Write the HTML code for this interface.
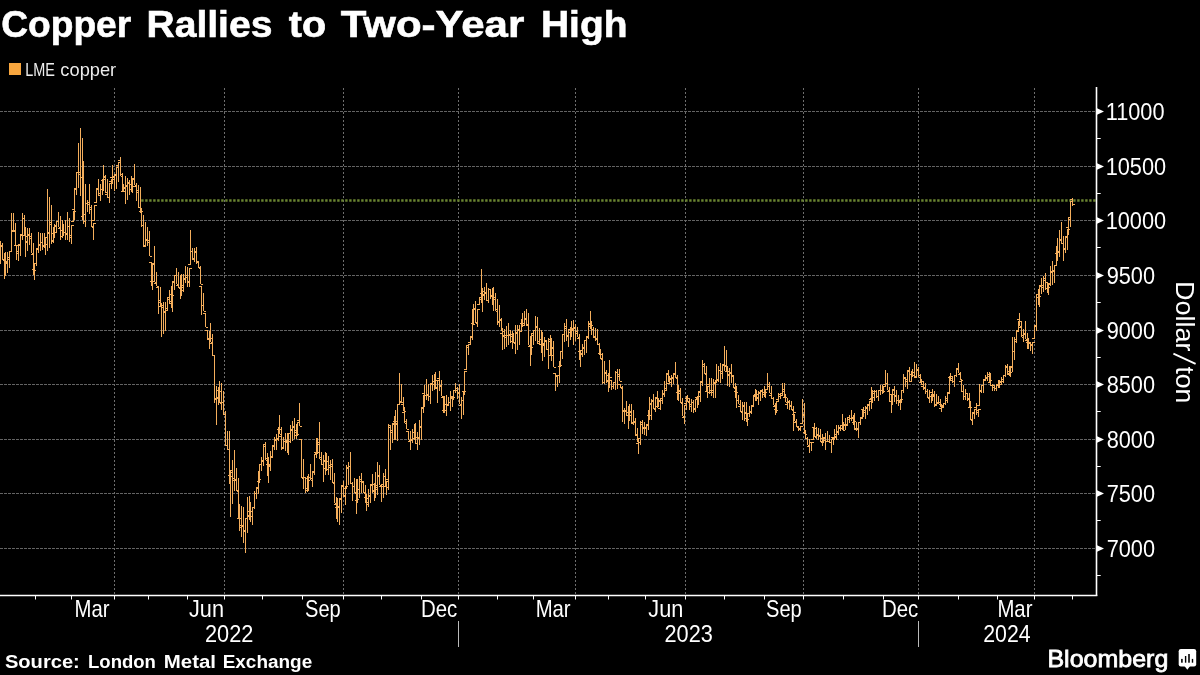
<!DOCTYPE html>
<html><head><meta charset="utf-8"><style>
html,body{margin:0;padding:0;background:#000;}
body{width:1200px;height:675px;overflow:hidden;position:relative;font-family:"Liberation Sans",sans-serif;}
svg{position:absolute;left:0;top:0;will-change:transform;}
svg text{font-family:"Liberation Sans",sans-serif;}
</style></head><body>
<svg width="1200" height="675" viewBox="0 0 1200 675" font-family="Liberation Sans, sans-serif">
<rect width="1200" height="675" fill="#000"/>
<text transform="translate(1.21 37) scale(0.9908 1)" x="0" y="0" fill="#fff" font-size="37.5" font-weight="bold" stroke="#fff" stroke-width="0.6">Copper</text><text transform="translate(146.52 37) scale(1.0415 1)" x="0" y="0" fill="#fff" font-size="37.5" font-weight="bold" stroke="#fff" stroke-width="0.6">Rallies</text><text transform="translate(288.80 37) scale(1.0529 1)" x="0" y="0" fill="#fff" font-size="37.5" font-weight="bold" stroke="#fff" stroke-width="0.6">to</text><text transform="translate(340.80 37) scale(1.1195 1)" x="0" y="0" fill="#fff" font-size="37.5" font-weight="bold" stroke="#fff" stroke-width="0.6">Two-Year</text><text transform="translate(540.92 37) scale(1.0405 1)" x="0" y="0" fill="#fff" font-size="37.5" font-weight="bold" stroke="#fff" stroke-width="0.6">High</text>
<rect x="9" y="63" width="12" height="12" fill="#f8a63e"/>
<text transform="translate(25.17 75.9) scale(0.8265 1)" x="0" y="0" fill="#ececec" font-size="17.5" font-weight="normal">LME</text><text transform="translate(60.36 75.9) scale(1.0434 1)" x="0" y="0" fill="#ececec" font-size="17.5" font-weight="normal">copper</text>
<g stroke="#636363" stroke-width="1" stroke-dasharray="3 1" fill="none" shape-rendering="crispEdges"><line x1="0" y1="548.5" x2="1096.0" y2="548.5"/><line x1="0" y1="493.5" x2="1096.0" y2="493.5"/><line x1="0" y1="439.5" x2="1096.0" y2="439.5"/><line x1="0" y1="384.5" x2="1096.0" y2="384.5"/><line x1="0" y1="330.5" x2="1096.0" y2="330.5"/><line x1="0" y1="275.5" x2="1096.0" y2="275.5"/><line x1="0" y1="220.5" x2="1096.0" y2="220.5"/><line x1="0" y1="166.5" x2="1096.0" y2="166.5"/><line x1="0" y1="111.5" x2="1096.0" y2="111.5"/></g>
<g stroke="#6e6e6e" stroke-width="1" stroke-dasharray="2 2" fill="none" shape-rendering="crispEdges"><line x1="114.5" y1="87.5" x2="114.5" y2="594.5"/><line x1="224.5" y1="87.5" x2="224.5" y2="594.5"/><line x1="343.5" y1="87.5" x2="343.5" y2="594.5"/><line x1="458.5" y1="87.5" x2="458.5" y2="594.5"/><line x1="575.5" y1="87.5" x2="575.5" y2="594.5"/><line x1="685.5" y1="87.5" x2="685.5" y2="594.5"/><line x1="803.5" y1="87.5" x2="803.5" y2="594.5"/><line x1="918.5" y1="87.5" x2="918.5" y2="594.5"/><line x1="1034.5" y1="87.5" x2="1034.5" y2="594.5"/></g>
<line x1="141" y1="200.5" x2="1096.5" y2="200.5" stroke="#6a8431" stroke-width="2.4" stroke-dasharray="2.4 1.6" stroke-dashoffset="-0.2"/>
<path d="M0.5 241V264M-2.0 248.5H0.5M0.5 245.5H3.0M2.5 243V259M0.0 246.5H2.5M2.5 259.5H5.0M4.5 253V279M2.0 259.5H4.5M4.5 262.5H7.0M5.5 252V276M3.0 260.5H5.5M5.5 263.5H8.0M7.5 252V273M5.0 261.5H7.5M7.5 259.5H10.0M9.5 251V268M7.0 257.5H9.5M9.5 251.5H12.0M11.5 213V251M9.0 251.5H11.5M11.5 231.5H14.0M13.5 213V232M11.0 230.5H13.5M13.5 230.5H16.0M15.5 223V245M13.0 231.5H15.5M15.5 245.5H18.0M16.5 245V260M14.0 245.5H16.5M16.5 251.5H19.0M18.5 244V261M16.0 253.5H18.5M18.5 244.5H21.0M20.5 235V256M18.0 245.5H20.5M20.5 235.5H23.0M22.5 213V240M20.0 234.5H22.5M22.5 218.5H25.0M24.5 215V236M22.0 218.5H24.5M24.5 236.5H27.0M25.5 227V257M23.0 235.5H25.5M25.5 241.5H28.0M27.5 228V251M25.0 242.5H27.5M27.5 234.5H30.0M29.5 228V245M27.0 235.5H29.5M29.5 238.5H32.0M31.5 233V253M29.0 236.5H31.5M31.5 253.5H34.0M33.5 243V275M31.0 254.5H33.5M33.5 270.5H36.0M34.5 263V280M32.0 269.5H34.5M34.5 263.5H37.0M36.5 248V266M34.0 263.5H36.5M36.5 248.5H39.0M38.5 232V253M36.0 249.5H38.5M38.5 245.5H41.0M40.5 233V251M38.0 244.5H40.5M40.5 242.5H43.0M42.5 233V250M40.0 242.5H42.5M42.5 245.5H45.0M44.5 233V248M42.0 246.5H44.5M44.5 244.5H47.0M45.5 237V255M43.0 246.5H45.5M45.5 237.5H48.0M47.5 189V251M45.0 237.5H47.5M47.5 233.5H50.0M49.5 197V248M47.0 232.5H49.5M49.5 224.5H52.0M51.5 205V244M49.0 222.5H51.5M51.5 240.5H54.0M53.5 227V243M51.0 241.5H53.5M53.5 232.5H56.0M54.5 224V238M52.0 233.5H54.5M54.5 225.5H57.0M56.5 221V233M54.0 226.5H56.5M56.5 221.5H59.0M58.5 212V227M56.0 221.5H58.5M58.5 227.5H61.0M60.5 216V240M58.0 228.5H60.5M60.5 236.5H63.0M62.5 220V238M60.0 236.5H62.5M62.5 232.5H65.0M63.5 224V236M61.0 230.5H63.5M63.5 232.5H66.0M65.5 220V240M63.0 232.5H65.5M65.5 233.5H68.0M67.5 212V240M65.0 234.5H67.5M67.5 226.5H70.0M69.5 218V242M67.0 226.5H69.5M69.5 237.5H72.0M71.5 225V244M69.0 235.5H71.5M71.5 225.5H74.0M73.5 211V221M71.0 221.5H73.5M73.5 211.5H76.0M74.5 189V220M72.0 209.5H74.5M74.5 189.5H77.0M76.5 172V195M74.0 188.5H76.5M76.5 172.5H79.0M78.5 143V188M76.0 172.5H78.5M78.5 174.5H81.0M80.5 128V196M78.0 172.5H80.5M80.5 177.5H83.0M82.5 138V220M80.0 177.5H82.5M82.5 214.5H85.0M83.5 161V224M81.0 216.5H83.5M83.5 221.5H86.0M85.5 184V227M83.0 221.5H85.5M85.5 203.5H88.0M87.5 200V212M85.0 203.5H87.5M87.5 202.5H90.0M89.5 184V214M87.0 204.5H89.5M89.5 209.5H92.0M91.5 205V227M89.0 207.5H91.5M91.5 227.5H94.0M93.5 223V240M91.0 226.5H93.5M93.5 223.5H96.0M94.5 205V220M92.0 220.5H94.5M94.5 205.5H97.0M96.5 189V202M94.0 202.5H96.5M96.5 189.5H99.0M98.5 179V196M96.0 188.5H98.5M98.5 193.5H101.0M100.5 184V201M98.0 195.5H100.5M100.5 189.5H103.0M102.5 179V195M100.0 189.5H102.5M102.5 179.5H105.0M103.5 165V191M101.0 180.5H103.5M103.5 176.5H106.0M105.5 175V193M103.0 177.5H105.5M105.5 192.5H108.0M107.5 179V198M105.0 194.5H107.5M107.5 197.5H110.0M109.5 183V203M107.0 197.5H109.5M109.5 183.5H112.0M111.5 179V189M109.0 181.5H111.5M111.5 179.5H114.0M112.5 165V184M110.0 177.5H112.5M112.5 177.5H115.0M114.5 175V191M112.0 176.5H114.5M114.5 175.5H117.0M116.5 167V189M114.0 174.5H116.5M116.5 167.5H119.0M118.5 162V182M116.0 165.5H118.5M118.5 162.5H121.0M120.5 157V176M118.0 160.5H120.5M120.5 176.5H123.0M122.5 173V191M120.0 174.5H122.5M122.5 191.5H125.0M123.5 184V192M121.0 191.5H123.5M123.5 188.5H126.0M125.5 176V204M123.0 187.5H125.5M125.5 186.5H128.0M127.5 178V200M125.0 185.5H127.5M127.5 182.5H130.0M129.5 180V195M127.0 183.5H129.5M129.5 189.5H132.0M131.5 176V192M129.0 189.5H131.5M131.5 186.5H134.0M132.5 179V193M130.0 184.5H132.5M132.5 179.5H135.0M134.5 164V185M132.0 178.5H134.5M134.5 185.5H137.0M136.5 183V201M134.0 186.5H136.5M136.5 192.5H139.0M138.5 185V207M136.0 190.5H138.5M138.5 207.5H141.0M140.5 187V213M138.0 207.5H140.5M140.5 211.5H143.0M141.5 208V227M139.0 211.5H141.5M141.5 225.5H144.0M143.5 215V247M141.0 225.5H143.5M143.5 245.5H146.0M145.5 222V246M143.0 246.5H145.5M145.5 240.5H148.0M147.5 227V246M145.0 239.5H147.5M147.5 242.5H150.0M149.5 231V256M147.0 240.5H149.5M149.5 256.5H152.0M151.5 262V286M149.0 262.5H151.5M151.5 281.5H154.0M152.5 263V290M150.0 281.5H152.5M152.5 263.5H155.0M154.5 246V282M152.0 264.5H154.5M154.5 282.5H157.0M156.5 272V286M154.0 283.5H156.5M156.5 286.5H159.0M158.5 287V314M156.0 287.5H158.5M158.5 302.5H161.0M160.5 287V307M158.0 300.5H160.5M160.5 307.5H163.0M161.5 303V337M159.0 306.5H161.5M161.5 307.5H164.0M163.5 302V334M161.0 305.5H163.5M163.5 312.5H166.0M165.5 302V331M163.0 311.5H165.5M165.5 308.5H168.0M167.5 297V311M165.0 310.5H167.5M167.5 297.5H170.0M169.5 290V303M167.0 299.5H169.5M169.5 301.5H172.0M171.5 286V308M169.0 303.5H171.5M171.5 295.5H174.0M172.5 282V312M170.0 294.5H172.5M172.5 282.5H175.0M174.5 275V290M172.0 281.5H174.5M174.5 275.5H177.0M176.5 268V284M174.0 275.5H176.5M176.5 284.5H179.0M178.5 272V287M176.0 285.5H178.5M178.5 287.5H181.0M180.5 275V299M178.0 287.5H180.5M180.5 290.5H183.0M181.5 274V296M179.0 288.5H181.5M181.5 285.5H184.0M183.5 274V292M181.0 287.5H183.5M183.5 278.5H186.0M185.5 266V283M183.0 279.5H185.5M185.5 277.5H188.0M187.5 267V287M185.0 275.5H187.5M187.5 282.5H190.0M189.5 268V287M187.0 281.5H189.5M189.5 268.5H192.0M190.5 230V264M188.0 264.5H190.5M190.5 251.5H193.0M192.5 248V259M190.0 251.5H192.5M192.5 258.5H195.0M194.5 248V262M192.0 259.5H194.5M194.5 252.5H197.0M196.5 247V264M194.0 251.5H196.5M196.5 261.5H199.0M198.5 262V268M196.0 262.5H198.5M198.5 268.5H201.0M200.5 266V284M198.0 267.5H200.5M200.5 284.5H203.0M201.5 286V315M199.0 286.5H201.5M201.5 305.5H204.0M203.5 293V311M201.0 305.5H203.5M203.5 311.5H206.0M205.5 313V327M203.0 313.5H205.5M205.5 327.5H208.0M207.5 330V339M205.0 330.5H207.5M207.5 339.5H210.0M209.5 331V349M207.0 339.5H209.5M209.5 338.5H212.0M210.5 323V342M208.0 338.5H210.5M210.5 342.5H213.0M212.5 334V355M210.0 343.5H212.5M212.5 355.5H215.0M214.5 355V403M212.0 355.5H214.5M214.5 399.5H217.0M216.5 386V425M214.0 398.5H216.5M216.5 398.5H219.0M218.5 387V405M216.0 397.5H218.5M218.5 391.5H221.0M219.5 381V403M217.0 390.5H219.5M219.5 403.5H222.0M221.5 383V410M219.0 402.5H221.5M221.5 402.5H224.0M223.5 391V414M221.0 402.5H223.5M223.5 414.5H226.0M225.5 411V445M223.0 414.5H225.5M225.5 445.5H228.0M227.5 431V449M225.0 445.5H227.5M227.5 449.5H230.0M229.5 431V484M227.0 449.5H229.5M229.5 476.5H232.0M230.5 470V517M228.0 475.5H230.5M230.5 472.5H233.0M232.5 460V504M230.0 470.5H232.5M232.5 480.5H235.0M234.5 450V491M232.0 478.5H234.5M234.5 479.5H237.0M236.5 468V491M234.0 480.5H236.5M236.5 491.5H239.0M238.5 478V518M236.0 490.5H238.5M238.5 518.5H241.0M239.5 504V531M237.0 518.5H239.5M239.5 527.5H242.0M241.5 506V537M239.0 525.5H241.5M241.5 526.5H244.0M243.5 507V543M241.0 525.5H243.5M243.5 530.5H246.0M245.5 518V553M243.0 531.5H245.5M245.5 518.5H248.0M247.5 497V533M245.0 518.5H247.5M247.5 515.5H250.0M249.5 496V520M247.0 516.5H249.5M249.5 511.5H252.0M250.5 502V522M248.0 511.5H250.5M250.5 516.5H253.0M252.5 507V525M250.0 516.5H252.5M252.5 507.5H255.0M254.5 491V509M252.0 507.5H254.5M254.5 493.5H257.0M256.5 487V499M254.0 493.5H256.5M256.5 487.5H259.0M258.5 471V494M256.0 488.5H258.5M258.5 479.5H261.0M259.5 464V483M257.0 481.5H259.5M259.5 464.5H262.0M261.5 457V471M259.0 464.5H261.5M261.5 460.5H264.0M263.5 445V466M261.0 461.5H263.5M263.5 446.5H266.0M265.5 442V460M263.0 444.5H265.5M265.5 460.5H268.0M267.5 453V476M265.0 458.5H267.5M267.5 466.5H270.0M268.5 457V483M266.0 464.5H268.5M268.5 464.5H271.0M270.5 451V471M268.0 465.5H270.5M270.5 457.5H273.0M272.5 445V458M270.0 456.5H272.5M272.5 445.5H275.0M274.5 437V450M272.0 446.5H274.5M274.5 439.5H277.0M276.5 434V450M274.0 440.5H276.5M276.5 439.5H279.0M278.5 427V441M276.0 438.5H278.5M278.5 429.5H281.0M279.5 415V434M277.0 429.5H279.5M279.5 434.5H282.0M281.5 427V450M279.0 436.5H281.5M281.5 448.5H284.0M283.5 437V449M281.0 447.5H283.5M283.5 441.5H286.0M285.5 433V451M283.0 441.5H285.5M285.5 441.5H288.0M287.5 433V453M285.0 440.5H287.5M287.5 441.5H290.0M288.5 433V455M286.0 442.5H288.5M288.5 433.5H291.0M290.5 425V443M288.0 433.5H290.5M290.5 430.5H293.0M292.5 421V441M290.0 429.5H292.5M292.5 426.5H295.0M294.5 418V439M292.0 427.5H294.5M294.5 432.5H297.0M296.5 424V439M294.0 430.5H296.5M296.5 434.5H299.0M297.5 422V435M295.0 435.5H297.5M297.5 422.5H300.0M299.5 403V426M297.0 420.5H299.5M299.5 426.5H302.0M301.5 439V478M299.0 439.5H301.5M301.5 478.5H304.0M303.5 459V489M301.0 477.5H303.5M303.5 477.5H306.0M305.5 477V493M303.0 477.5H305.5M305.5 488.5H308.0M307.5 476V492M305.0 490.5H307.5M307.5 480.5H310.0M308.5 474V491M306.0 478.5H308.5M308.5 477.5H311.0M310.5 464V480M308.0 477.5H310.5M310.5 480.5H313.0M312.5 471V487M310.0 478.5H312.5M312.5 471.5H315.0M314.5 454V475M312.0 472.5H314.5M314.5 454.5H317.0M316.5 438V458M314.0 452.5H316.5M316.5 452.5H319.0M317.5 438V454M315.0 453.5H317.5M317.5 444.5H320.0M319.5 422V459M317.0 442.5H319.5M319.5 459.5H322.0M321.5 452V464M319.0 457.5H321.5M321.5 464.5H324.0M323.5 455V482M321.0 464.5H323.5M323.5 460.5H326.0M325.5 452V475M323.0 461.5H325.5M325.5 469.5H328.0M326.5 453V471M324.0 468.5H326.5M326.5 461.5H329.0M328.5 456V475M326.0 461.5H328.5M328.5 467.5H331.0M330.5 460V480M328.0 465.5H330.5M330.5 466.5H333.0M332.5 459V483M330.0 464.5H332.5M332.5 483.5H335.0M334.5 473V503M332.0 482.5H334.5M334.5 503.5H337.0M336.5 497V519M334.0 504.5H336.5M336.5 507.5H339.0M337.5 498V522M335.0 507.5H337.5M337.5 507.5H340.0M339.5 499V525M337.0 506.5H339.5M339.5 499.5H342.0M341.5 485V513M339.0 498.5H341.5M341.5 485.5H344.0M343.5 481V497M341.0 486.5H343.5M343.5 496.5H346.0M345.5 486V505M343.0 495.5H345.5M345.5 486.5H348.0M346.5 465V489M344.0 488.5H346.5M346.5 467.5H349.0M348.5 462V485M346.0 468.5H348.5M348.5 466.5H351.0M350.5 452V483M348.0 466.5H350.5M350.5 483.5H353.0M352.5 482V501M350.0 483.5H352.5M352.5 486.5H355.0M354.5 478V493M352.0 486.5H354.5M354.5 493.5H357.0M356.5 479V514M354.0 492.5H356.5M356.5 499.5H359.0M357.5 479V503M355.0 500.5H357.5M357.5 489.5H360.0M359.5 476V498M357.0 489.5H359.5M359.5 481.5H362.0M361.5 473V493M359.0 479.5H361.5M361.5 482.5H364.0M363.5 481V493M361.0 481.5H363.5M363.5 493.5H366.0M365.5 485V503M363.0 492.5H365.5M365.5 498.5H368.0M366.5 494V511M364.0 497.5H366.5M366.5 502.5H369.0M368.5 489V507M366.0 504.5H368.5M368.5 496.5H371.0M370.5 485V503M368.0 495.5H370.5M370.5 485.5H373.0M372.5 474V493M370.0 484.5H372.5M372.5 491.5H375.0M374.5 483V501M372.0 490.5H374.5M374.5 485.5H377.0M375.5 472V498M373.0 484.5H375.5M375.5 487.5H378.0M377.5 462V495M375.0 489.5H377.5M377.5 476.5H380.0M379.5 465V485M377.0 475.5H379.5M379.5 485.5H382.0M381.5 486V502M379.0 486.5H381.5M381.5 486.5H384.0M383.5 473V498M381.0 484.5H383.5M383.5 476.5H386.0M385.5 469V487M383.0 476.5H385.5M385.5 487.5H388.0M386.5 481V495M384.0 486.5H386.5M386.5 481.5H389.0M388.5 424V490M386.0 479.5H388.5M388.5 427.5H391.0M390.5 425V450M388.0 425.5H390.5M390.5 432.5H393.0M392.5 424V443M390.0 430.5H392.5M392.5 424.5H395.0M394.5 416V440M392.0 423.5H394.5M394.5 421.5H397.0M395.5 410V440M393.0 421.5H395.5M395.5 423.5H398.0M397.5 404V441M395.0 424.5H397.5M397.5 404.5H400.0M399.5 373V404M397.0 404.5H399.5M399.5 402.5H402.0M401.5 384V403M399.0 401.5H401.5M401.5 402.5H404.0M403.5 397V411M401.0 404.5H403.5M403.5 411.5H406.0M404.5 407V423M402.0 412.5H404.5M404.5 423.5H407.0M406.5 419V429M404.0 421.5H406.5M406.5 429.5H409.0M408.5 431V440M406.0 431.5H408.5M408.5 440.5H411.0M410.5 431V450M408.0 441.5H410.5M410.5 440.5H413.0M412.5 429V443M410.0 439.5H412.5M412.5 432.5H415.0M414.5 424V440M412.0 432.5H414.5M414.5 437.5H417.0M415.5 423V443M413.0 438.5H415.5M415.5 443.5H418.0M417.5 432V450M415.0 443.5H417.5M417.5 437.5H420.0M419.5 420V445M417.0 438.5H419.5M419.5 427.5H422.0M421.5 408V440M419.0 426.5H421.5M421.5 408.5H424.0M423.5 395V413M421.0 407.5H423.5M423.5 395.5H426.0M424.5 385V407M422.0 393.5H424.5M424.5 395.5H427.0M426.5 379V400M424.0 395.5H426.5M426.5 394.5H429.0M428.5 384V401M426.0 395.5H428.5M428.5 396.5H431.0M430.5 383V404M428.0 396.5H430.5M430.5 383.5H433.0M432.5 375V391M430.0 384.5H432.5M432.5 384.5H435.0M434.5 374V390M432.0 384.5H434.5M434.5 380.5H437.0M435.5 372V388M433.0 381.5H435.5M435.5 387.5H438.0M437.5 380V403M435.0 388.5H437.5M437.5 380.5H440.0M439.5 371V391M437.0 378.5H439.5M439.5 385.5H442.0M441.5 380V396M439.0 386.5H441.5M441.5 396.5H444.0M443.5 397V413M441.0 397.5H443.5M443.5 410.5H446.0M444.5 396V413M442.0 410.5H444.5M444.5 404.5H447.0M446.5 395V416M444.0 404.5H446.5M446.5 404.5H449.0M448.5 397V405M446.0 405.5H448.5M448.5 402.5H451.0M450.5 391V411M448.0 402.5H450.5M450.5 396.5H453.0M452.5 397V407M450.0 397.5H452.5M452.5 397.5H455.0M453.5 390V400M451.0 398.5H453.5M453.5 390.5H456.0M455.5 383V393M453.0 390.5H455.5M455.5 390.5H458.0M457.5 387V399M455.0 388.5H457.5M457.5 392.5H460.0M459.5 384V404M457.0 393.5H459.5M459.5 404.5H462.0M461.5 397V419M459.0 405.5H461.5M461.5 400.5H464.0M463.5 391V415M461.0 400.5H463.5M463.5 391.5H466.0M464.5 371V395M462.0 391.5H464.5M464.5 371.5H467.0M466.5 345V369M464.0 369.5H466.5M466.5 345.5H469.0M468.5 344V355M466.0 347.5H468.5M468.5 344.5H471.0M470.5 336V345M468.0 342.5H470.5M470.5 336.5H473.0M472.5 309V340M470.0 337.5H472.5M472.5 324.5H475.0M473.5 304V323M471.0 323.5H473.5M473.5 309.5H476.0M475.5 301V323M473.0 308.5H475.5M475.5 323.5H478.0M477.5 309V327M475.0 322.5H477.5M477.5 309.5H480.0M479.5 297V304M477.0 304.5H479.5M479.5 297.5H482.0M481.5 269V303M479.0 299.5H481.5M481.5 291.5H484.0M482.5 288V312M480.0 293.5H482.5M482.5 294.5H485.0M484.5 287V300M482.0 295.5H484.5M484.5 293.5H487.0M486.5 283V300M484.0 292.5H486.5M486.5 300.5H489.0M488.5 288V303M486.0 300.5H488.5M488.5 289.5H491.0M490.5 289V299M488.0 289.5H490.5M490.5 296.5H493.0M492.5 288V305M490.0 296.5H492.5M492.5 297.5H495.0M493.5 287V311M491.0 295.5H493.5M493.5 299.5H496.0M495.5 293V311M493.0 299.5H495.5M495.5 311.5H498.0M497.5 299V325M495.0 309.5H497.5M497.5 321.5H500.0M499.5 305V327M497.0 322.5H499.5M499.5 319.5H502.0M501.5 318V331M499.0 320.5H501.5M501.5 331.5H504.0M502.5 328V350M500.0 333.5H502.5M502.5 336.5H505.0M504.5 329V349M502.0 335.5H504.5M504.5 335.5H507.0M506.5 326V347M504.0 337.5H506.5M506.5 335.5H509.0M508.5 323V345M506.0 335.5H508.5M508.5 335.5H511.0M510.5 330V343M508.0 334.5H510.5M510.5 336.5H513.0M512.5 331V349M510.0 334.5H512.5M512.5 342.5H515.0M513.5 333V343M511.0 341.5H513.5M513.5 343.5H516.0M515.5 325V354M513.0 342.5H515.5M515.5 332.5H518.0M517.5 325V350M515.0 333.5H517.5M517.5 330.5H520.0M519.5 325V345M517.0 329.5H519.5M519.5 331.5H522.0M521.5 319V331M519.0 331.5H521.5M521.5 323.5H524.0M522.5 313V327M520.0 323.5H522.5M522.5 323.5H525.0M524.5 311V326M522.0 325.5H524.5M524.5 318.5H527.0M526.5 309V326M524.0 319.5H526.5M526.5 324.5H529.0M528.5 313V345M526.0 325.5H528.5M528.5 345.5H531.0M530.5 336V366M528.0 346.5H530.5M530.5 347.5H533.0M531.5 333V355M529.0 346.5H531.5M531.5 333.5H534.0M533.5 330V345M531.0 335.5H533.5M533.5 330.5H536.0M535.5 316V341M533.0 330.5H535.5M535.5 327.5H538.0M537.5 317V343M535.0 326.5H537.5M537.5 341.5H540.0M539.5 328V345M537.0 343.5H539.5M539.5 339.5H542.0M541.5 330V353M539.0 339.5H541.5M541.5 343.5H544.0M542.5 332V361M540.0 344.5H542.5M542.5 345.5H545.0M544.5 337V357M542.0 344.5H544.5M544.5 340.5H547.0M546.5 341V349M544.0 341.5H546.5M546.5 349.5H549.0M548.5 338V369M546.0 349.5H548.5M548.5 339.5H551.0M550.5 335V355M548.0 341.5H550.5M550.5 355.5H553.0M551.5 338V361M549.0 355.5H551.5M551.5 348.5H554.0M553.5 341V367M551.0 347.5H553.5M553.5 367.5H556.0M555.5 373V391M553.0 373.5H555.5M555.5 376.5H558.0M557.5 375V387M555.0 375.5H557.5M557.5 375.5H560.0M559.5 361V383M557.0 375.5H559.5M559.5 365.5H562.0M560.5 351V367M558.0 366.5H560.5M560.5 351.5H563.0M562.5 334V359M560.0 351.5H562.5M562.5 334.5H565.0M564.5 323V342M562.0 334.5H564.5M564.5 328.5H567.0M566.5 319V341M564.0 326.5H566.5M566.5 335.5H569.0M568.5 329V347M566.0 336.5H568.5M568.5 329.5H571.0M570.5 327V340M568.0 329.5H570.5M570.5 330.5H573.0M571.5 321V337M569.0 332.5H571.5M571.5 329.5H574.0M573.5 320V345M571.0 328.5H573.5M573.5 328.5H576.0M575.5 324V341M573.0 327.5H575.5M575.5 331.5H578.0M577.5 327V337M575.0 333.5H577.5M577.5 337.5H580.0M579.5 334V360M577.0 338.5H579.5M579.5 350.5H582.0M580.5 351V367M578.0 351.5H580.5M580.5 353.5H583.0M582.5 344V357M580.0 354.5H582.5M582.5 347.5H585.0M584.5 340V355M582.0 348.5H584.5M584.5 340.5H587.0M586.5 336V353M584.0 340.5H586.5M586.5 336.5H589.0M588.5 321V339M586.0 337.5H588.5M588.5 324.5H591.0M590.5 311V329M588.0 326.5H590.5M590.5 325.5H593.0M591.5 321V335M589.0 323.5H591.5M591.5 329.5H594.0M593.5 327V337M591.0 329.5H593.5M593.5 336.5H596.0M595.5 328V341M593.0 337.5H595.5M595.5 338.5H598.0M597.5 329V344M595.0 339.5H597.5M597.5 344.5H600.0M599.5 343V355M597.0 344.5H599.5M599.5 354.5H602.0M600.5 349V359M598.0 353.5H600.5M600.5 359.5H603.0M602.5 353V384M600.0 358.5H602.5M602.5 382.5H605.0M604.5 361V384M602.0 382.5H604.5M604.5 373.5H607.0M606.5 370V383M604.0 372.5H606.5M606.5 380.5H609.0M608.5 373V392M606.0 381.5H608.5M608.5 377.5H611.0M609.5 360V388M607.0 375.5H609.5M609.5 377.5H612.0M611.5 380V390M609.0 380.5H611.5M611.5 386.5H614.0M613.5 382V389M611.0 386.5H613.5M613.5 382.5H616.0M615.5 371V390M613.0 382.5H615.5M615.5 372.5H618.0M617.5 369V389M615.0 372.5H617.5M617.5 374.5H620.0M619.5 369V381M617.0 376.5H619.5M619.5 381.5H622.0M620.5 384V388M618.0 384.5H620.5M620.5 388.5H623.0M622.5 386V422M620.0 387.5H622.5M622.5 410.5H625.0M624.5 408V424M622.0 411.5H624.5M624.5 411.5H627.0M626.5 401V416M624.0 410.5H626.5M626.5 412.5H629.0M628.5 406V429M626.0 412.5H628.5M628.5 415.5H631.0M629.5 404V421M627.0 415.5H629.5M629.5 411.5H632.0M631.5 404V424M629.0 412.5H631.5M631.5 423.5H634.0M633.5 410V425M631.0 422.5H633.5M633.5 422.5H636.0M635.5 418V436M633.0 421.5H635.5M635.5 434.5H638.0M637.5 428V442M635.0 435.5H637.5M637.5 442.5H640.0M638.5 438V454M636.0 443.5H638.5M638.5 438.5H641.0M640.5 421V445M638.0 438.5H640.5M640.5 422.5H643.0M642.5 420V434M640.0 424.5H642.5M642.5 427.5H645.0M644.5 422V435M642.0 428.5H644.5M644.5 428.5H647.0M646.5 425V436M644.0 427.5H646.5M646.5 425.5H649.0M648.5 410V430M646.0 424.5H648.5M648.5 415.5H651.0M649.5 397V420M647.0 415.5H649.5M649.5 404.5H652.0M651.5 399V420M649.0 403.5H651.5M651.5 400.5H654.0M653.5 394V409M651.0 401.5H653.5M653.5 409.5H656.0M655.5 398V412M653.0 408.5H655.5M655.5 398.5H658.0M657.5 391V408M655.0 397.5H657.5M657.5 408.5H660.0M658.5 398V406M656.0 406.5H658.5M658.5 401.5H661.0M660.5 398V410M658.0 400.5H660.5M660.5 398.5H663.0M662.5 390V404M660.0 400.5H662.5M662.5 393.5H665.0M664.5 381V397M662.0 394.5H664.5M664.5 388.5H667.0M666.5 374V391M664.0 390.5H666.5M666.5 374.5H669.0M668.5 370V382M666.0 373.5H668.5M668.5 382.5H671.0M669.5 376V384M667.0 383.5H669.5M669.5 378.5H672.0M671.5 375V387M669.0 379.5H671.5M671.5 378.5H674.0M673.5 374V384M671.0 377.5H673.5M673.5 374.5H676.0M675.5 362V378M673.0 373.5H675.5M675.5 378.5H678.0M677.5 375V400M675.0 377.5H677.5M677.5 390.5H680.0M678.5 385V401M676.0 392.5H678.5M678.5 391.5H681.0M680.5 388V403M678.0 393.5H680.5M680.5 403.5H683.0M682.5 398V416M680.0 402.5H682.5M682.5 416.5H685.0M684.5 405V424M682.0 417.5H684.5M684.5 405.5H687.0M686.5 396V410M684.0 403.5H686.5M686.5 398.5H689.0M687.5 395V402M685.0 398.5H687.5M687.5 402.5H690.0M689.5 398V410M687.0 401.5H689.5M689.5 404.5H692.0M691.5 399V412M689.0 406.5H691.5M691.5 402.5H694.0M693.5 400V413M691.0 402.5H693.5M693.5 408.5H696.0M695.5 399V412M693.0 409.5H695.5M695.5 399.5H698.0M697.5 396V408M695.0 397.5H697.5M697.5 396.5H700.0M698.5 391V405M696.0 398.5H698.5M698.5 391.5H701.0M700.5 382V402M698.0 392.5H700.5M700.5 382.5H703.0M702.5 360V386M700.0 381.5H702.5M702.5 364.5H705.0M704.5 363V374M702.0 366.5H704.5M704.5 374.5H707.0M706.5 366V392M704.0 373.5H706.5M706.5 392.5H709.0M707.5 386V398M705.0 391.5H707.5M707.5 386.5H710.0M709.5 378V394M707.0 384.5H709.5M709.5 390.5H712.0M711.5 378V396M709.0 392.5H711.5M711.5 390.5H714.0M713.5 379V398M711.0 392.5H713.5M713.5 383.5H716.0M715.5 380V398M713.0 382.5H715.5M715.5 380.5H718.0M716.5 364V382M714.0 382.5H716.5M716.5 380.5H719.0M718.5 366V382M716.0 379.5H718.5M718.5 370.5H721.0M720.5 363V383M718.0 370.5H720.5M720.5 371.5H723.0M722.5 364V379M720.0 373.5H722.5M722.5 364.5H725.0M724.5 346V371M722.0 365.5H724.5M724.5 365.5H727.0M726.5 350V371M724.0 366.5H726.5M726.5 371.5H729.0M727.5 366V386M725.0 371.5H727.5M727.5 375.5H730.0M729.5 368V387M727.0 374.5H729.5M729.5 372.5H732.0M731.5 364V383M729.0 373.5H731.5M731.5 376.5H734.0M733.5 375V388M731.0 375.5H733.5M733.5 388.5H736.0M735.5 383V398M733.0 387.5H735.5M735.5 392.5H738.0M736.5 386V408M734.0 391.5H736.5M736.5 400.5H739.0M738.5 395V404M736.0 400.5H738.5M738.5 404.5H741.0M740.5 400V412M738.0 406.5H740.5M740.5 412.5H743.0M742.5 402V420M740.0 411.5H742.5M742.5 406.5H745.0M744.5 402V421M742.0 405.5H744.5M744.5 412.5H747.0M746.5 402V422M744.0 413.5H746.5M746.5 419.5H749.0M747.5 413V426M745.0 418.5H747.5M747.5 413.5H750.0M749.5 406V417M747.0 413.5H749.5M749.5 411.5H752.0M751.5 405V414M749.0 412.5H751.5M751.5 405.5H754.0M753.5 395V407M751.0 406.5H753.5M753.5 395.5H756.0M755.5 389V401M753.0 396.5H755.5M755.5 394.5H758.0M756.5 390V401M754.0 394.5H756.5M756.5 397.5H759.0M758.5 391V405M756.0 398.5H758.5M758.5 393.5H761.0M760.5 390V401M758.0 392.5H760.5M760.5 391.5H763.0M762.5 389V398M760.0 390.5H762.5M762.5 394.5H765.0M764.5 386V397M762.0 394.5H764.5M764.5 392.5H767.0M765.5 389V398M763.0 392.5H765.5M765.5 389.5H768.0M767.5 373V390M765.0 389.5H767.5M767.5 384.5H770.0M769.5 382V393M767.0 386.5H769.5M769.5 393.5H772.0M771.5 386V398M769.0 395.5H771.5M771.5 398.5H774.0M773.5 397V405M771.0 398.5H773.5M773.5 405.5H776.0M775.5 403V415M773.0 406.5H775.5M775.5 410.5H778.0M776.5 401V413M774.0 409.5H776.5M776.5 401.5H779.0M778.5 393V401M776.0 399.5H778.5M778.5 394.5H781.0M780.5 393V399M778.0 396.5H780.5M780.5 393.5H783.0M782.5 383V395M780.0 395.5H782.5M782.5 389.5H785.0M784.5 383V398M782.0 391.5H784.5M784.5 397.5H787.0M785.5 394V402M783.0 397.5H785.5M785.5 402.5H788.0M787.5 398V409M785.0 404.5H787.5M787.5 401.5H790.0M789.5 400V410M787.0 402.5H789.5M789.5 406.5H792.0M791.5 401V410M789.0 405.5H791.5M791.5 410.5H794.0M793.5 406V431M791.0 409.5H793.5M793.5 412.5H796.0M794.5 414V421M792.0 414.5H794.5M794.5 421.5H797.0M796.5 419V427M794.0 422.5H796.5M796.5 427.5H799.0M798.5 426V431M796.0 426.5H798.5M798.5 428.5H801.0M800.5 426V431M798.0 429.5H800.5M800.5 426.5H803.0M802.5 399V423M800.0 423.5H802.5M802.5 414.5H805.0M804.5 403V434M802.0 415.5H804.5M804.5 434.5H807.0M805.5 430V439M803.0 432.5H805.5M805.5 438.5H808.0M807.5 437V445M805.0 438.5H807.5M807.5 445.5H810.0M809.5 439V453M807.0 446.5H809.5M809.5 442.5H812.0M811.5 442V451M809.0 442.5H811.5M811.5 442.5H814.0M813.5 427V439M811.0 439.5H813.5M813.5 428.5H816.0M814.5 423V437M812.0 427.5H814.5M814.5 437.5H817.0M816.5 427V439M814.0 436.5H816.5M816.5 435.5H819.0M818.5 428V440M816.0 434.5H818.5M818.5 435.5H821.0M820.5 429V442M818.0 436.5H820.5M820.5 442.5H823.0M822.5 434V446M820.0 441.5H822.5M822.5 437.5H825.0M823.5 437V443M821.0 438.5H823.5M823.5 440.5H826.0M825.5 433V450M823.0 438.5H825.5M825.5 441.5H828.0M827.5 431V442M825.0 441.5H827.5M827.5 441.5H830.0M829.5 435V442M827.0 441.5H829.5M829.5 442.5H832.0M831.5 439V453M829.0 442.5H831.5M831.5 439.5H834.0M833.5 437V445M831.0 437.5H833.5M833.5 437.5H836.0M834.5 429V440M832.0 438.5H834.5M834.5 436.5H837.0M836.5 425V440M834.0 434.5H836.5M836.5 432.5H839.0M838.5 425V435M836.0 431.5H838.5M838.5 428.5H841.0M840.5 425V431M838.0 427.5H840.5M840.5 425.5H843.0M842.5 414V430M840.0 425.5H842.5M842.5 430.5H845.0M843.5 422V430M841.0 428.5H843.5M843.5 424.5H846.0M845.5 418V430M843.0 425.5H845.5M845.5 425.5H848.0M847.5 417V426M845.0 424.5H847.5M847.5 417.5H850.0M849.5 415V423M847.0 419.5H849.5M849.5 418.5H852.0M851.5 410V421M849.0 418.5H851.5M851.5 417.5H854.0M853.5 415V425M851.0 418.5H853.5M853.5 421.5H856.0M854.5 413V430M852.0 422.5H854.5M854.5 428.5H857.0M856.5 422V431M854.0 429.5H856.5M856.5 428.5H859.0M858.5 422V438M856.0 429.5H858.5M858.5 422.5H861.0M860.5 417V425M858.0 422.5H860.5M860.5 417.5H863.0M862.5 410V419M860.0 418.5H862.5M862.5 410.5H865.0M863.5 407V417M861.0 409.5H863.5M863.5 412.5H866.0M865.5 406V419M863.0 412.5H865.5M865.5 408.5H868.0M867.5 404V415M865.0 407.5H867.5M867.5 404.5H870.0M869.5 401V411M867.0 405.5H869.5M869.5 401.5H872.0M871.5 387V409M869.0 399.5H871.5M871.5 397.5H874.0M872.5 390V403M870.0 398.5H872.5M872.5 391.5H875.0M874.5 390V401M872.0 393.5H874.5M874.5 391.5H877.0M876.5 390V398M874.0 391.5H876.5M876.5 396.5H879.0M878.5 390V401M876.0 396.5H878.5M878.5 390.5H881.0M880.5 385V395M878.0 390.5H880.5M880.5 390.5H883.0M882.5 385V394M880.0 390.5H882.5M882.5 391.5H885.0M883.5 386V393M881.0 390.5H883.5M883.5 386.5H886.0M885.5 370V387M883.0 384.5H885.5M885.5 383.5H888.0M887.5 373V390M885.0 383.5H887.5M887.5 390.5H890.0M889.5 387V401M887.0 391.5H889.5M889.5 401.5H892.0M891.5 394V413M889.0 401.5H891.5M891.5 394.5H894.0M892.5 390V405M890.0 394.5H892.5M892.5 390.5H895.0M894.5 386V402M892.0 389.5H894.5M894.5 396.5H897.0M896.5 390V404M894.0 395.5H896.5M896.5 400.5H899.0M898.5 395V406M896.0 400.5H898.5M898.5 401.5H901.0M900.5 399V410M898.0 402.5H900.5M900.5 399.5H903.0M901.5 390V403M899.0 400.5H901.5M901.5 390.5H904.0M903.5 374V393M901.0 390.5H903.5M903.5 377.5H906.0M905.5 378V387M903.0 378.5H905.5M905.5 379.5H908.0M907.5 370V389M905.0 381.5H907.5M907.5 370.5H910.0M909.5 367V381M907.0 371.5H909.5M909.5 381.5H912.0M911.5 371V381M909.0 381.5H911.5M911.5 375.5H914.0M912.5 369V377M910.0 374.5H912.5M912.5 372.5H915.0M914.5 362V377M912.0 372.5H914.5M914.5 376.5H917.0M916.5 364V377M914.0 377.5H916.5M916.5 369.5H919.0M918.5 367V377M916.0 370.5H918.5M918.5 377.5H921.0M920.5 374V382M918.0 375.5H920.5M920.5 381.5H923.0M921.5 379V385M919.0 382.5H921.5M921.5 384.5H924.0M923.5 381V390M921.0 386.5H923.5M923.5 387.5H926.0M925.5 383V394M923.0 388.5H925.5M925.5 391.5H928.0M927.5 389V398M925.0 391.5H927.5M927.5 398.5H930.0M929.5 390V403M927.0 397.5H929.5M929.5 396.5H932.0M931.5 394V403M929.0 396.5H931.5M931.5 394.5H934.0M932.5 389V401M930.0 392.5H932.5M932.5 396.5H935.0M934.5 391V407M932.0 395.5H934.5M934.5 404.5H937.0M936.5 394V406M934.0 405.5H936.5M936.5 403.5H939.0M938.5 396V404M936.0 402.5H938.5M938.5 404.5H941.0M940.5 399V407M938.0 402.5H940.5M940.5 407.5H943.0M941.5 404V412M939.0 408.5H941.5M941.5 405.5H944.0M943.5 403V408M941.0 406.5H943.5M943.5 403.5H946.0M945.5 396V405M943.0 403.5H945.5M945.5 400.5H948.0M947.5 392V403M945.0 398.5H947.5M947.5 392.5H950.0M949.5 376V393M947.0 393.5H949.5M949.5 376.5H952.0M950.5 373V380M948.0 377.5H950.5M950.5 378.5H953.0M952.5 376V383M950.0 380.5H952.5M952.5 381.5H955.0M954.5 375V387M952.0 381.5H954.5M954.5 375.5H957.0M956.5 368V377M954.0 375.5H956.5M956.5 368.5H959.0M958.5 363V373M956.0 369.5H958.5M958.5 373.5H961.0M960.5 372V380M958.0 374.5H960.5M960.5 380.5H963.0M961.5 379V391M959.0 381.5H961.5M961.5 391.5H964.0M963.5 385V400M961.0 391.5H963.5M963.5 396.5H966.0M965.5 389V400M963.0 396.5H965.5M965.5 393.5H968.0M967.5 393V401M965.0 393.5H967.5M967.5 398.5H970.0M969.5 393V407M967.0 399.5H969.5M969.5 407.5H972.0M970.5 401V420M968.0 407.5H970.5M970.5 420.5H973.0M972.5 412V425M970.0 419.5H972.5M972.5 412.5H975.0M974.5 409V419M972.0 413.5H974.5M974.5 409.5H977.0M976.5 403V415M974.0 407.5H976.5M976.5 412.5H979.0M978.5 409V417M976.0 410.5H978.5M978.5 409.5H981.0M979.5 384V405M977.0 405.5H979.5M979.5 390.5H982.0M981.5 385V393M979.0 391.5H981.5M981.5 385.5H984.0M983.5 380V393M981.0 385.5H983.5M983.5 380.5H986.0M985.5 375V381M983.0 379.5H985.5M985.5 378.5H988.0M987.5 372V381M985.0 377.5H987.5M987.5 376.5H990.0M989.5 372V383M987.0 374.5H989.5M989.5 380.5H992.0M990.5 373V385M988.0 382.5H990.5M990.5 385.5H993.0M992.5 384V391M990.0 385.5H992.5M992.5 387.5H995.0M994.5 385V391M992.0 385.5H994.5M994.5 388.5H997.0M996.5 384V391M994.0 388.5H996.5M996.5 384.5H999.0M998.5 380V388M996.0 385.5H998.5M998.5 384.5H1001.0M999.5 380V388M997.0 385.5H999.5M999.5 382.5H1002.0M1001.5 377V385M999.0 381.5H1001.5M1001.5 381.5H1004.0M1003.5 375V383M1001.0 379.5H1003.5M1003.5 375.5H1006.0M1005.5 365V377M1003.0 375.5H1005.5M1005.5 367.5H1008.0M1007.5 364V375M1005.0 366.5H1007.5M1007.5 373.5H1010.0M1009.5 366V376M1007.0 371.5H1009.5M1009.5 372.5H1012.0M1010.5 367V377M1008.0 374.5H1010.5M1010.5 367.5H1013.0M1012.5 337V372M1010.0 366.5H1012.5M1012.5 351.5H1015.0M1014.5 337V360M1012.0 351.5H1014.5M1014.5 339.5H1017.0M1016.5 331V343M1014.0 341.5H1016.5M1016.5 331.5H1019.0M1018.5 321V331M1016.0 330.5H1018.5M1018.5 321.5H1021.0M1019.5 313V326M1017.0 319.5H1019.5M1019.5 326.5H1022.0M1021.5 321V337M1019.0 327.5H1021.5M1021.5 337.5H1024.0M1023.5 329V342M1021.0 335.5H1023.5M1023.5 333.5H1026.0M1025.5 321V339M1023.0 334.5H1025.5M1025.5 339.5H1028.0M1027.5 333V349M1025.0 340.5H1027.5M1027.5 343.5H1030.0M1028.5 338V349M1026.0 342.5H1028.5M1028.5 343.5H1031.0M1030.5 342V351M1028.0 342.5H1030.5M1030.5 345.5H1033.0M1032.5 342V354M1030.0 344.5H1032.5M1032.5 342.5H1035.0M1034.5 325V338M1032.0 338.5H1034.5M1034.5 325.5H1037.0M1036.5 294V331M1034.0 326.5H1036.5M1036.5 294.5H1039.0M1038.5 289V305M1036.0 294.5H1038.5M1038.5 296.5H1041.0M1039.5 286V307M1037.0 297.5H1039.5M1039.5 286.5H1042.0M1041.5 278V294M1039.0 285.5H1041.5M1041.5 285.5H1044.0M1043.5 276V292M1041.0 287.5H1043.5M1043.5 278.5H1046.0M1045.5 273V290M1043.0 280.5H1045.5M1045.5 282.5H1048.0M1047.5 282V293M1045.0 282.5H1047.5M1047.5 287.5H1050.0M1048.5 283V295M1046.0 288.5H1048.5M1048.5 283.5H1051.0M1050.5 266V286M1048.0 284.5H1050.5M1050.5 271.5H1053.0M1052.5 261V285M1050.0 272.5H1052.5M1052.5 271.5H1055.0M1054.5 265V283M1052.0 270.5H1054.5M1054.5 265.5H1057.0M1056.5 246V265M1054.0 265.5H1056.5M1056.5 252.5H1059.0M1057.5 238V261M1055.0 253.5H1057.5M1057.5 251.5H1060.0M1059.5 230V257M1057.0 251.5H1059.5M1059.5 239.5H1062.0M1061.5 222V243M1059.0 240.5H1061.5M1061.5 243.5H1064.0M1063.5 236V261M1061.0 243.5H1063.5M1063.5 248.5H1066.0M1065.5 236V253M1063.0 249.5H1065.5M1065.5 237.5H1068.0M1067.5 229V250M1065.0 236.5H1067.5M1067.5 229.5H1070.0M1068.5 218V235M1066.0 227.5H1068.5M1068.5 219.5H1071.0M1070.5 201V227M1068.0 217.5H1070.5M1070.5 201.5H1073.0M1072.5 198V206M1070.0 199.5H1072.5M1072.5 204.5H1075.0" stroke="#f4ae5c" stroke-width="1" fill="none" shape-rendering="crispEdges"/>
<g fill="#fff" stroke="none">
<line x1="1096.5" y1="87" x2="1096.5" y2="596.0" stroke="#fff" stroke-width="1.6"/>
<line x1="0" y1="595.5" x2="1097.3" y2="595.5" stroke="#fff" stroke-width="1.6"/>
<path d="M1096.5 545.0L1104.0 548.5L1096.5 552.0Z"/><path d="M1096.5 490.0L1104.0 493.5L1096.5 497.0Z"/><path d="M1096.5 436.0L1104.0 439.5L1096.5 443.0Z"/><path d="M1096.5 381.0L1104.0 384.5L1096.5 388.0Z"/><path d="M1096.5 327.0L1104.0 330.5L1096.5 334.0Z"/><path d="M1096.5 272.0L1104.0 275.5L1096.5 279.0Z"/><path d="M1096.5 217.0L1104.0 220.5L1096.5 224.0Z"/><path d="M1096.5 163.0L1104.0 166.5L1096.5 170.0Z"/><path d="M1096.5 108.0L1104.0 111.5L1096.5 115.0Z"/><line x1="1096.5" y1="575.5" x2="1100.7" y2="575.5" stroke="#fff" stroke-width="1"/><line x1="1096.5" y1="520.5" x2="1100.7" y2="520.5" stroke="#fff" stroke-width="1"/><line x1="1096.5" y1="466.5" x2="1100.7" y2="466.5" stroke="#fff" stroke-width="1"/><line x1="1096.5" y1="411.5" x2="1100.7" y2="411.5" stroke="#fff" stroke-width="1"/><line x1="1096.5" y1="357.5" x2="1100.7" y2="357.5" stroke="#fff" stroke-width="1"/><line x1="1096.5" y1="302.5" x2="1100.7" y2="302.5" stroke="#fff" stroke-width="1"/><line x1="1096.5" y1="247.5" x2="1100.7" y2="247.5" stroke="#fff" stroke-width="1"/><line x1="1096.5" y1="193.5" x2="1100.7" y2="193.5" stroke="#fff" stroke-width="1"/><line x1="1096.5" y1="138.5" x2="1100.7" y2="138.5" stroke="#fff" stroke-width="1"/>
</g>
<g stroke="#fff" stroke-width="1"><line x1="35.5" y1="595.5" x2="35.5" y2="599.5"/><line x1="71.5" y1="595.5" x2="71.5" y2="599.5"/><line x1="114.5" y1="595.5" x2="114.5" y2="599.5"/><line x1="148.5" y1="595.5" x2="148.5" y2="599.5"/><line x1="187.5" y1="595.5" x2="187.5" y2="599.5"/><line x1="224.5" y1="595.5" x2="224.5" y2="599.5"/><line x1="262.5" y1="595.5" x2="262.5" y2="599.5"/><line x1="302.5" y1="595.5" x2="302.5" y2="599.5"/><line x1="343.5" y1="595.5" x2="343.5" y2="599.5"/><line x1="381.5" y1="595.5" x2="381.5" y2="599.5"/><line x1="421.5" y1="595.5" x2="421.5" y2="599.5"/><line x1="458.5" y1="595.5" x2="458.5" y2="599.5"/><line x1="497.5" y1="595.5" x2="497.5" y2="599.5"/><line x1="533.5" y1="595.5" x2="533.5" y2="599.5"/><line x1="575.5" y1="595.5" x2="575.5" y2="599.5"/><line x1="608.5" y1="595.5" x2="608.5" y2="599.5"/><line x1="645.5" y1="595.5" x2="645.5" y2="599.5"/><line x1="685.5" y1="595.5" x2="685.5" y2="599.5"/><line x1="724.5" y1="595.5" x2="724.5" y2="599.5"/><line x1="764.5" y1="595.5" x2="764.5" y2="599.5"/><line x1="803.5" y1="595.5" x2="803.5" y2="599.5"/><line x1="843.5" y1="595.5" x2="843.5" y2="599.5"/><line x1="883.5" y1="595.5" x2="883.5" y2="599.5"/><line x1="918.5" y1="595.5" x2="918.5" y2="599.5"/><line x1="958.5" y1="595.5" x2="958.5" y2="599.5"/><line x1="997.5" y1="595.5" x2="997.5" y2="599.5"/><line x1="1034.5" y1="595.5" x2="1034.5" y2="599.5"/><line x1="1072.5" y1="595.5" x2="1072.5" y2="599.5"/></g>
<g><text transform="translate(1106.65 556.7) scale(0.9450 1)" x="0" y="0" fill="#fff" font-size="23" font-weight="normal">7000</text><text transform="translate(1106.65 501.7) scale(0.9450 1)" x="0" y="0" fill="#fff" font-size="23" font-weight="normal">7500</text><text transform="translate(1106.65 447.7) scale(0.9450 1)" x="0" y="0" fill="#fff" font-size="23" font-weight="normal">8000</text><text transform="translate(1106.65 392.7) scale(0.9450 1)" x="0" y="0" fill="#fff" font-size="23" font-weight="normal">8500</text><text transform="translate(1106.65 338.7) scale(0.9450 1)" x="0" y="0" fill="#fff" font-size="23" font-weight="normal">9000</text><text transform="translate(1106.65 283.7) scale(0.9450 1)" x="0" y="0" fill="#fff" font-size="23" font-weight="normal">9500</text><text transform="translate(1105.71 228.7) scale(0.9450 1)" x="0" y="0" fill="#fff" font-size="23" font-weight="normal">10000</text><text transform="translate(1105.71 174.7) scale(0.9450 1)" x="0" y="0" fill="#fff" font-size="23" font-weight="normal">10500</text><text transform="translate(1105.71 119.7) scale(0.9450 1)" x="0" y="0" fill="#fff" font-size="23" font-weight="normal">11000</text></g>
<g transform="translate(1176 0) rotate(90)"><text transform="translate(280.96 0) scale(1.0209 1)" x="0" y="0" fill="#fff" font-size="26.5" font-weight="normal">Dollar</text><text transform="translate(366.40 0) scale(1.0029 1)" x="0" y="0" fill="#fff" font-size="26.5" font-weight="normal">ton</text></g>
<line x1="1173.4" y1="353.6" x2="1195.6" y2="363.8" stroke="#fff" stroke-width="1.9"/>
<g><text transform="translate(74.53 617.3) scale(0.8842 1)" x="0" y="0" fill="#fff" font-size="23" font-weight="normal">Mar</text><text transform="translate(189.00 617.3) scale(0.9444 1)" x="0" y="0" fill="#fff" font-size="23" font-weight="normal">Jun</text><text transform="translate(305.03 617.3) scale(0.8718 1)" x="0" y="0" fill="#fff" font-size="23" font-weight="normal">Sep</text><text transform="translate(420.93 617.3) scale(0.8872 1)" x="0" y="0" fill="#fff" font-size="23" font-weight="normal">Dec</text><text transform="translate(535.63 617.3) scale(0.8842 1)" x="0" y="0" fill="#fff" font-size="23" font-weight="normal">Mar</text><text transform="translate(648.30 617.3) scale(0.9444 1)" x="0" y="0" fill="#fff" font-size="23" font-weight="normal">Jun</text><text transform="translate(766.03 617.3) scale(0.8718 1)" x="0" y="0" fill="#fff" font-size="23" font-weight="normal">Sep</text><text transform="translate(881.93 617.3) scale(0.8872 1)" x="0" y="0" fill="#fff" font-size="23" font-weight="normal">Dec</text><text transform="translate(997.43 617.3) scale(0.8842 1)" x="0" y="0" fill="#fff" font-size="23" font-weight="normal">Mar</text><text transform="translate(205.01 641.8) scale(0.9449 1)" x="0" y="0" fill="#fff" font-size="23" font-weight="normal">2022</text><text transform="translate(664.51 641.8) scale(0.9449 1)" x="0" y="0" fill="#fff" font-size="23" font-weight="normal">2023</text><text transform="translate(983.22 641.8) scale(0.9260 1)" x="0" y="0" fill="#fff" font-size="23" font-weight="normal">2024</text></g>
<g stroke="#bbb" stroke-width="1"><line x1="458.5" y1="621" x2="458.5" y2="647"/><line x1="918.5" y1="621" x2="918.5" y2="647"/></g>
<text transform="translate(4.94 667.7) scale(1.0588 1)" x="0" y="0" fill="#fff" font-size="19" font-weight="bold">Source:</text><text transform="translate(88.03 667.7) scale(0.9750 1)" x="0" y="0" fill="#fff" font-size="19" font-weight="bold">London</text><text transform="translate(163.82 667.7) scale(1.0761 1)" x="0" y="0" fill="#fff" font-size="19" font-weight="bold">Metal</text><text transform="translate(222.70 667.7) scale(0.9977 1)" x="0" y="0" fill="#fff" font-size="19" font-weight="bold">Exchange</text>
<text transform="translate(1047.42 666.8) scale(1.0880 1)" x="0" y="0" fill="#fff" font-size="23" font-weight="normal" stroke="#fff" stroke-width="0.75">Bloomberg</text>
<g>
<rect x="1178.7" y="649.1" width="17.5" height="17.3" rx="2.2" fill="#fff"/>
<path d="M1184.5 666L1187.3 669.8L1190.1 666Z" fill="#fff"/>
<rect x="1181.1" y="658.9" width="1.6" height="3.8" fill="#000"/>
<rect x="1184.9" y="656" width="1.4" height="6.7" fill="#000"/>
<rect x="1188.2" y="654" width="1.6" height="8.7" fill="#000"/>
<rect x="1191.8" y="658.9" width="1.4" height="3.8" fill="#000"/>
</g>
</svg>
</body></html>
